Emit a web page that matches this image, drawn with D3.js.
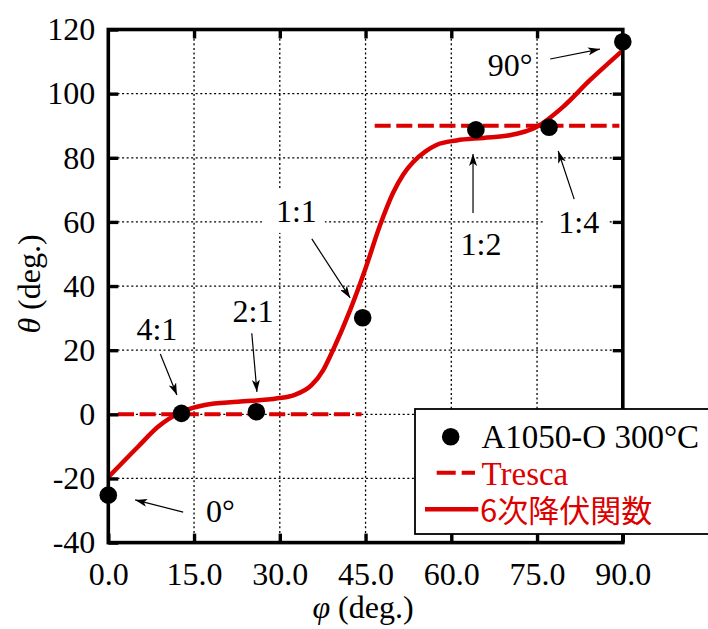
<!DOCTYPE html>
<html>
<head>
<meta charset="utf-8">
<script src="https://cdn.jsdelivr.net/npm/d3@7"></script>
<style>
  html, body { margin: 0; padding: 0; background: #fff; }
  svg { display: block; }
</style>
</head>
<body>
<div id="chart"></div>
<script>
// ---------------- data ----------------
const xTicks = [0, 15, 30, 45, 60, 75, 90];
const yTicks = [-40, -20, 0, 20, 40, 60, 80, 100, 120];

// experimental points (A1050-O 300°C)
const pointPhi   = [0, 12.8, 25.9, 44.5, 64.3, 77.1, 90];
const pointTheta = [-25.2, 0.3, 0.8, 30.1, 88.7, 89.5, 116.2];

// 6th-order yield function curve
const curvePhi   = [0, 5.2, 8.7, 12.8, 16.9, 22.7, 29.6, 32.5, 35.5, 37.6, 39.3, 42.3, 44.9, 47.5, 49.8, 51.6, 53.3, 55.5, 57.4, 60.9, 65.6, 70.2, 74.9, 79.5, 84.2, 90];
const curveTheta = [-19.6, -10.1, -3.9, 0.7, 2.9, 3.9, 5.0, 6.0, 9.0, 13.8, 20.0, 32.5, 45.0, 58.8, 69.0, 74.8, 78.6, 82.0, 84.0, 85.4, 86.2, 87.0, 89.6, 95.8, 104.1, 113.5];

// Tresca segments
const trescaStart = [1.7, 46.6];
const trescaEnd   = [44.3, 89.4];
const trescaTheta = [0, 90];

// annotations
const annoText   = ["1:1", "4:1", "2:1", "0°", "90°", "1:2", "1:4"];
const annoPhi    = [32.9, 8.5, 25.3, 19.6, 70.3, 65.2, 82.3];
const annoTheta  = [63.4, 26.6, 32.2, -30.2, 108.9, 53.1, 60.0];
const annoBoxed  = [true, false, false, false, false, false, true];
const arrowFromPhi   = [35.6, 9.1, 25.1, 13.1, 77.3, 63.8, 81.5];
const arrowFromTheta = [54.7, 18.8, 25.3, -30.5, 110.8, 62.8, 67.1];
const arrowToPhi     = [42.3, 12.0, 26.0, 4.7, 86.0, 63.8, 78.7];
const arrowToTheta   = [36.3, 6.0, 7.0, -26.7, 113.9, 81.2, 82.1];

const legendLabels = ["A1050-O 300°C", "Tresca", "6次降伏関数"];

// ---------------- layout ----------------
const W = 708, H = 629;
const RED = "#dc0000";
const SERIF = "'Liberation Serif', 'Times New Roman', Times, serif";
const CJK = "'Noto Sans CJK JP', 'Noto Sans', sans-serif";

const x = d3.scaleLinear().domain([0, 90]).range([108.3, 622.8]);
const y = d3.scaleLinear().domain([-40, 120]).range([542.6, 29.5]);

const svg = d3.select("#chart").append("svg")
  .attr("width", W).attr("height", H)
  .attr("viewBox", `0 0 ${W} ${H}`);

const defs = svg.append("defs");
defs.append("marker")
  .attr("id", "ah")
  .attr("viewBox", "0 0 12 8")
  .attr("refX", 12).attr("refY", 4)
  .attr("markerWidth", 12).attr("markerHeight", 8)
  .attr("markerUnits", "userSpaceOnUse")
  .attr("orient", "auto")
  .append("path")
  .attr("d", "M0,0 L12,4 L0,8 L3,4 Z")
  .attr("fill", "#000");

// grid
const grid = svg.append("g").attr("stroke", "#000").attr("stroke-width", 1.3)
  .attr("stroke-dasharray", "2,2.6");
grid.selectAll("line.gx").data(xTicks.slice(1, -1)).join("line")
  .attr("x1", d => x(d)).attr("x2", d => x(d))
  .attr("y1", y(120)).attr("y2", y(-40));
grid.selectAll("line.gy").data(yTicks.slice(1, -1)).join("line")
  .attr("x1", x(0)).attr("x2", x(90))
  .attr("y1", d => y(d)).attr("y2", d => y(d));

const annos = annoText.map((t, i) => ({ t, phi: annoPhi[i], th: annoTheta[i], boxed: annoBoxed[i],
  fx: arrowFromPhi[i], fy: arrowFromTheta[i], tx: arrowToPhi[i], ty: arrowToTheta[i] }));

const boxG = svg.append("g");

// Tresca
svg.append("g").selectAll("line").data(trescaTheta).join("line")
  .attr("x1", (d, i) => x(trescaStart[i])).attr("x2", (d, i) => x(trescaEnd[i]))
  .attr("y1", d => y(d)).attr("y2", d => y(d))
  .attr("stroke", RED).attr("stroke-width", 4).attr("stroke-dasharray", "16,5.6");

// curve
const curveData = curvePhi.map((p, i) => [p, curveTheta[i]]);
svg.append("path").datum(curveData)
  .attr("d", d3.line().x(d => x(d[0])).y(d => y(d[1])).curve(d3.curveMonotoneX))
  .attr("fill", "none").attr("stroke", RED).attr("stroke-width", 4.5)
  .attr("stroke-linejoin", "round");

// points
svg.append("g").selectAll("circle").data(pointPhi).join("circle")
  .attr("cx", d => x(d)).attr("cy", (d, i) => y(pointTheta[i]))
  .attr("r", 8.8).attr("fill", "#000");

// frame
svg.append("rect")
  .attr("x", x(0)).attr("y", y(120))
  .attr("width", x(90) - x(0)).attr("height", y(-40) - y(120))
  .attr("fill", "none").attr("stroke", "#000").attr("stroke-width", 3.6);

// ticks via axes
function styleAxis(g) {
  g.select(".domain").remove();
  g.selectAll(".tick line").attr("stroke", "#000").attr("stroke-width", 3.4);
  g.selectAll(".tick text").attr("font-family", SERIF).attr("font-size", 32).attr("fill", "#000");
}
const fmtX = d => d.toFixed(1);
const fmtY = d => String(d);

svg.append("g").attr("transform", `translate(0,${y(-40)})`)
  .call(d3.axisBottom(x).tickValues(xTicks).tickFormat(fmtX).tickSize(-9).tickPadding(20))
  .call(styleAxis);
svg.append("g").attr("transform", `translate(0,${y(120)})`)
  .call(d3.axisTop(x).tickValues(xTicks.slice(1, -1)).tickFormat("").tickSize(-9))
  .call(styleAxis);
svg.append("g").attr("transform", `translate(${x(0)},0)`)
  .call(d3.axisLeft(y).tickValues(yTicks).tickFormat(fmtY).tickSize(-10).tickPadding(13))
  .call(styleAxis);
svg.append("g").attr("transform", `translate(${x(90)},0)`)
  .call(d3.axisRight(y).tickValues(yTicks.slice(1, -1)).tickFormat("").tickSize(-10))
  .call(styleAxis);

// arrows
svg.append("g").selectAll("line").data(annos).join("line")
  .attr("x1", d => x(d.fx)).attr("y1", d => y(d.fy))
  .attr("x2", d => x(d.tx)).attr("y2", d => y(d.ty))
  .attr("stroke", "#000").attr("stroke-width", 1.2)
  .attr("marker-end", "url(#ah)");

// annotation labels
const labG = svg.append("g");
const texts = labG.selectAll("text").data(annos).join("text")
  .attr("x", d => x(d.phi)).attr("y", d => y(d.th)).attr("dy", "0.34em")
  .attr("text-anchor", "middle")
  .attr("font-family", SERIF).attr("font-size", 32).attr("fill", "#000")
  .text(d => d.t);
texts.each(function(d) {
  if (!d.boxed) return;
  const b = this.getBBox();
  boxG.append("rect")
    .attr("x", b.x - 14).attr("y", b.y - 4)
    .attr("width", b.width + 22).attr("height", b.height + 8)
    .attr("fill", "#fff");
});

// axis titles
const yt = svg.append("text")
  .attr("transform", `translate(40,284) rotate(-90)`)
  .attr("text-anchor", "middle")
  .attr("font-family", SERIF).attr("font-size", 32).attr("fill", "#000");
yt.append("tspan").attr("font-style", "italic").text("θ");
yt.append("tspan").text(" (deg.)");

const xt = svg.append("text")
  .attr("x", 363).attr("y", 618)
  .attr("text-anchor", "middle")
  .attr("font-family", SERIF).attr("font-size", 32).attr("fill", "#000");
xt.append("tspan").attr("font-style", "italic").text("φ");
xt.append("tspan").text(" (deg.)");

// legend
const lg = svg.append("g");
lg.append("rect").attr("x", 415).attr("y", 409).attr("width", 310).attr("height", 125)
  .attr("fill", "#fff").attr("stroke", "#000").attr("stroke-width", 1.8);
lg.append("circle").attr("cx", 450.7).attr("cy", 436.7).attr("r", 8.8).attr("fill", "#000");
lg.append("line").attr("x1", 436.7).attr("x2", 475).attr("y1", 472.7).attr("y2", 472.7)
  .attr("stroke", RED).attr("stroke-width", 4).attr("stroke-dasharray", "19,6");
lg.append("line").attr("x1", 425).attr("x2", 478.3).attr("y1", 509.3).attr("y2", 509.3)
  .attr("stroke", RED).attr("stroke-width", 4.5);
lg.append("text").attr("x", 481.5).attr("y", 448.3)
  .attr("font-family", SERIF).attr("font-size", 33).attr("fill", "#000").text(legendLabels[0]);
lg.append("text").attr("x", 481.5).attr("y", 485)
  .attr("font-family", SERIF).attr("font-size", 33).attr("fill", RED).text(legendLabels[1]);
lg.append("text").attr("x", 480).attr("y", 522)
  .attr("font-family", CJK).attr("font-size", 31).attr("fill", RED).text(legendLabels[2]);
</script>
</body>
</html>
